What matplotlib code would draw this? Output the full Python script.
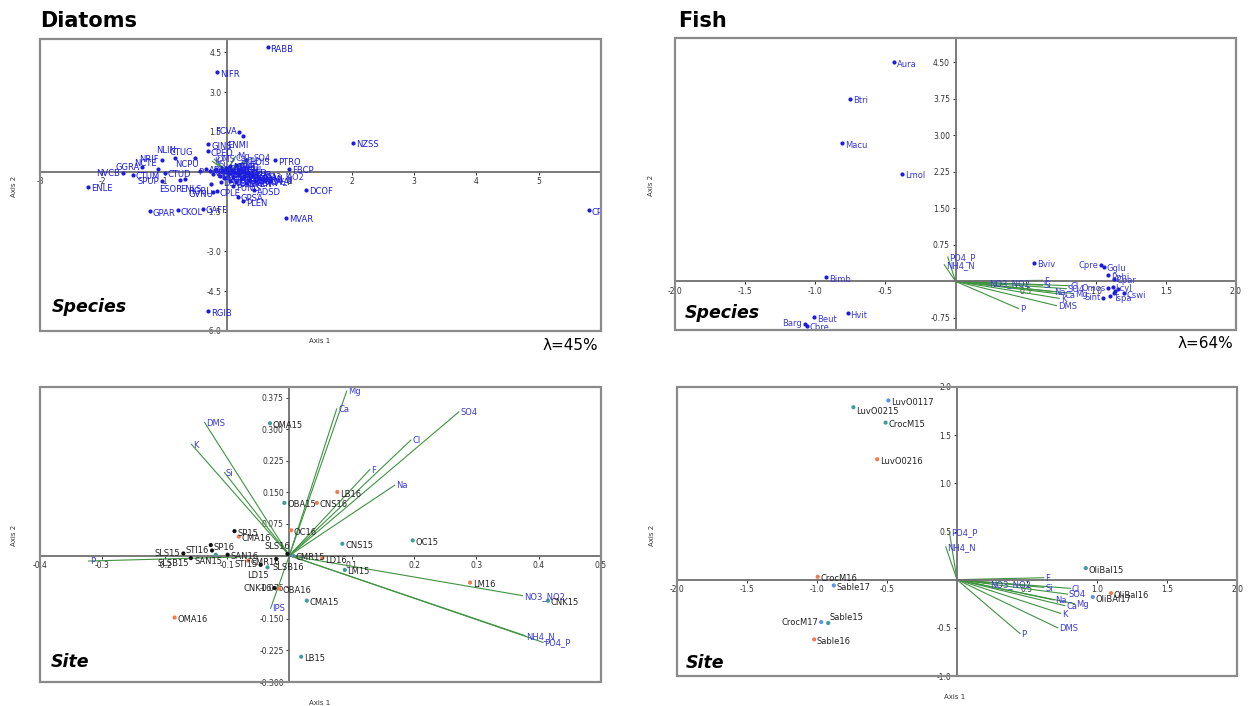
import matplotlib
matplotlib.use("Agg")
import matplotlib.pyplot as plt
from matplotlib.patches import Rectangle

plt.rcParams['font.family'] = ['DejaVu Sans']

# ======================= DATA =======================
# --- Diatoms: species scores (Axis 1, Axis 2) ---
diat_sp_names = ["RABB", "NIFR", "NZSS", "CP", "FCVA", "ENMI", "GINS", "CPED", "NLIN", "CTUG",
                 "NRIF", "GGRA", "NCTE", "NVCB", "CTUM", "ENLE", "CTUD", "SPUP", "NCPU", "ESOR",
                 "ENLS", "GVNU", "RGBL", "CPLE", "FUNG", "ADSD", "GPSA", "PLEN", "GAFF", "CKOL",
                 "GPAR", "RGIB", "MVAR", "DCOF", "PTRO", "FBCP", "HDIS",
                 "ADMI", "NPAL", "NCRY", "GPUM", "ECPT", "NAMP", "NGRE", "CPLA", "NLAN", "NCTV",
                 "NRCH", "NCPR", "ESLE", "SSEM", "NIPU", "NINC", "CMEN", "APED", "FSAP", "NVEN",
                 "MCIR", "NDIS", "PSCA", "SBRV", "NPAE", "DSTE", "TFLO", "EOMI", "AOVA"]
diat_sp_x = [0.65, -0.16, 2.02, 5.80, 0.20, 0.25, -0.30, -0.31, -0.84, -0.52,
             -1.05, -1.36, -1.10, -1.67, -1.51, -2.23, -1.00, -1.04, -0.44, -0.76,
             -0.68, -0.26, -0.22, -0.16, 0.10, 0.44, 0.18, 0.26, -0.39, -0.79,
             -1.24, -0.30, 0.95, 1.27, 0.77, 1.00, 0.31,
             -0.34, -0.28, -0.22, -0.18, -0.12, -0.08, -0.05, -0.02, 0.02, 0.05,
             0.08, 0.10, 0.12, 0.15, 0.18, 0.20, 0.22, 0.25, 0.28, 0.30,
             0.33, 0.36, 0.40, 0.45, 0.05, -0.10, 0.14, 0.50, 0.60]
diat_sp_y = [4.68, 3.74, 1.09, -1.46, 1.51, 1.36, 1.04, 0.78, 0.52, 0.50,
             0.46, 0.16, 0.10, -0.06, -0.11, -0.56, -0.03, -0.36, 0.02, -0.31,
             -0.29, -0.48, -0.76, -0.74, -0.55, -0.70, -0.94, -1.10, -1.40, -1.45,
             -1.49, -5.26, -1.73, -0.68, 0.43, 0.11, 0.44,
             0.12, 0.02, -0.08, 0.10, -0.15, 0.05, -0.25, 0.15, -0.05, -0.35,
             0.08, -0.18, -0.02, -0.40, 0.12, -0.10, -0.28, 0.02, -0.20, -0.42,
             -0.05, -0.30, -0.15, -0.35, 0.22, -0.38, 0.25, -0.22, -0.32]

# --- Diatoms: environmental variables (biplot arrows, site scaling) ---
diat_env_names = ["DMS", "K", "Si", "P", "IPS", "Mg", "Ca", "SO4", "Cl", "F", "Na",
                  "NO3_NO2", "NH4_N", "PO4_P"]
diat_env_x = [-0.136, -0.157, -0.104, -0.322, -0.030, 0.092, 0.076, 0.272, 0.195, 0.129, 0.169,
              0.374, 0.378, 0.407]
diat_env_y = [0.316, 0.264, 0.197, -0.013, -0.125, 0.390, 0.348, 0.341, 0.274, 0.204, 0.167,
              -0.095, -0.190, -0.206]

# --- Diatoms: site scores ---
diat_site_names = ["OMA15", "OBA15", "CNS16", "LB16", "OC16", "SP15", "CMA16", "SP16", "STI16",
                   "SLS15", "SLSB15", "SAN15", "SAN16", "CMR16", "STI15", "LD15", "SLS16", "SLSB16",
                   "CMR15", "LD16", "CNS15", "OC15", "LM15", "LM16", "CNK15", "CMA15", "LB15",
                   "OMA16", "CNK16", "OBA16"]
diat_site_x = [-0.031, -0.008, 0.044, 0.077, 0.003, -0.088, -0.081, -0.126, -0.124,
               -0.170, -0.158, -0.118, -0.099, -0.066, -0.046, -0.035, -0.003, -0.021,
               0.006, 0.053, 0.085, 0.198, 0.089, 0.290, 0.415, 0.028, 0.019,
               -0.184, -0.024, -0.016]
diat_site_y = [0.314, 0.125, 0.125, 0.151, 0.060, 0.058, 0.045, 0.025, 0.012,
               0.005, -0.006, 0.002, 0.002, -0.012, -0.022, -0.028, 0.004, -0.008,
               0.000, -0.006, 0.028, 0.036, -0.034, -0.064, -0.107, -0.107, -0.240,
               -0.147, -0.077, -0.078]
diat_site_group = ["t", "t", "o", "o", "o", "k", "o", "k", "k",
                   "k", "k", "t", "k", "o", "k", "t", "k", "k",
                   "t", "o", "t", "t", "t", "o", "t", "t", "t",
                   "o", "k", "o"]

# --- Fish: species scores ---
fish_sp_names = ["Aura", "Btri", "Macu", "Lmol", "Bimb", "Hvit", "Beut", "Barg", "Cbre",
                 "Bviv", "Cpre", "Gglu", "Pphi", "Cpar", "Lcyl", "Omos", "Sint", "Tspa", "Cswi",
                 "", "", ""]
fish_sp_x = [-0.44, -0.75, -0.81, -0.38, -0.92, -0.77, -1.01, -1.075, -1.06,
             0.56, 1.04, 1.06, 1.09, 1.13, 1.12, 1.09, 1.055, 1.10, 1.20,
             1.14, 1.16, 1.13]
fish_sp_y = [4.50, 3.75, 2.84, 2.21, 0.09, -0.65, -0.74, -0.88, -0.91,
             0.38, 0.33, 0.30, 0.13, 0.05, -0.11, -0.14, -0.335, -0.30, -0.25,
             -0.19, -0.15, -0.24]

# --- Fish: environmental variables ---
fish_env_names = ["PO4_P", "NH4_N", "NO3_NO2", "F", "Si", "Cl", "SO4", "Na", "Ca", "Mg", "K", "DMS", "P"]
fish_env_x = [-0.055, -0.08, 0.23, 0.62, 0.62, 0.81, 0.79, 0.69, 0.77, 0.84, 0.74, 0.72, 0.45]
fish_env_y = [0.50, 0.34, -0.04, 0.02, -0.08, -0.09, -0.15, -0.21, -0.27, -0.25, -0.35, -0.50, -0.56]

# --- Fish: site scores ---
fish_site_names = ["LuvO0117", "LuvO0215", "CrocM15", "LuvO0216", "CrocM16", "Sable17",
                   "CrocM17", "Sable15", "Sable16", "OliBal15", "OliBal16", "OliBAl17"]
fish_site_x = [-0.49, -0.74, -0.51, -0.57, -0.995, -0.88, -0.97, -0.92, -1.02, 0.92, 1.10, 0.97]
fish_site_y = [1.86, 1.79, 1.63, 1.25, 0.03, -0.06, -0.44, -0.45, -0.62, 0.12, -0.14, -0.18]
fish_site_group = ["b", "t", "t", "o", "o", "b", "b", "t", "o", "t", "o", "b"]

# Variance explained
lambda_diat = "λ=45%"
lambda_fish = "λ=64%"

# ======================= STYLE =======================
W, H = 1253, 706
SP_BLUE = "#1c1ce0"
ENV_BLUE = "#3a3ad8"
ENV_GREEN = "#3f9440"
GROUP_COL = {"k": "#111111", "o": "#f27a4c", "t": "#3f9d98", "b": "#5a92ec"}

fig = plt.figure(figsize=(W / 100, H / 100), dpi=100)


def make_ax(x0, y0, x1, y1):
    return fig.add_axes([x0 / W, 1 - y1 / H, (x1 - x0) / W, (y1 - y0) / H])


def setup(ax, xlim, ylim, xt, xfmt, yt, yfmt):
    ax.set_xlim(*xlim)
    ax.set_ylim(*ylim)
    ax.spines['top'].set_visible(False)
    ax.spines['right'].set_visible(False)
    for s in ('left', 'bottom'):
        ax.spines[s].set_position(('data', 0))
        ax.spines[s].set_color('#6e6e6e')
        ax.spines[s].set_linewidth(1.3)
    ax.set_xticks(xt, [xfmt.format(v) for v in xt])
    ax.set_yticks(yt, [yfmt.format(v) for v in yt])
    ax.tick_params(axis='both', labelsize=5.5, colors='#333333', length=2.5, width=0.7, pad=1.5)
    ax.add_patch(Rectangle((0, 0), 1, 1, transform=ax.transAxes, fill=False,
                           ec='#8a8a8a', lw=1.6, clip_on=False, zorder=20))


def label_points(ax, names, xs, ys, color, fs, offsets, default=(2, -1.5, 'left')):
    for n, x, y in zip(names, xs, ys):
        if not n:
            continue
        dx, dy, ha = offsets.get(n, default)
        ax.annotate(n, (x, y), xytext=(dx, dy), textcoords='offset points', ha=ha,
                    va='center', fontsize=fs, color=color, clip_on=True, zorder=5)


def env_arrows(ax, names, xs, ys, scale=1.0, fs=6):
    for n, x, y in zip(names, xs, ys):
        ax.plot([0, x * scale], [0, y * scale], color=ENV_GREEN, lw=0.8, zorder=2)
        ax.annotate(n, (x * scale, y * scale), xytext=(1, -0.5), textcoords='offset points',
                    ha='left', va='center', fontsize=fs, color=ENV_BLUE, zorder=4, clip_on=True)


# ---------------- Panel A: Diatom species ----------------
axA = make_ax(40, 39, 601, 331)
setup(axA, (-3, 6), (-6, 5), [-3, -2, -1, 1, 2, 3, 4, 5], "{:d}",
      [4.5, 3.0, 1.5, -1.5, -3.0, -4.5, -6.0], "{:.1f}")
env_arrows(axA, diat_env_names, diat_env_x, diat_env_y, scale=1.5, fs=6)
axA.scatter(diat_sp_x, diat_sp_y, s=9, color=SP_BLUE, zorder=3, linewidths=0)
offA = {"FCVA": (-2, 0, 'right'), "ENMI": (4, -7, 'right'), "NLIN": (1, 5, 'right'),
        "CTUG": (-1, 4, 'right'), "NRIF": (-2, 0, 'right'), "GGRA": (-2, 0, 'right'),
        "NCTE": (-1, 4, 'right'), "NVCB": (-2, 0, 'right'), "SPUP": (-2, 0, 'right'),
        "NCPU": (-1, 5, 'right'), "ESOR": (2, -7, 'right'), "ENLS": (-3, -7, 'left'),
        "GVNU": (2, -7, 'right'), "RGBL": (-2, 0, 'right')}
label_points(axA, diat_sp_names, diat_sp_x, diat_sp_y, SP_BLUE, 6, offA)

# ---------------- Panel B: Fish species ----------------
axB = make_ax(675, 38, 1236, 330)
setup(axB, (-2, 2), (-1, 5), [-2.0, -1.5, -1.0, -0.5, 0.5, 1.0, 1.5, 2.0], "{:.1f}",
      [4.5, 3.75, 3.0, 2.25, 1.5, 0.75, -0.75], "{:.2f}")
env_arrows(axB, fish_env_names, fish_env_x, fish_env_y, fs=6)
axB.scatter(fish_sp_x, fish_sp_y, s=9, color=SP_BLUE, zorder=3, linewidths=0)
offB = {"Barg": (-2, 0.5, 'right'), "Cpre": (-2, 0, 'right'), "Omos": (-2, 0, 'right'),
        "Sint": (-2, 0, 'right')}
label_points(axB, fish_sp_names, fish_sp_x, fish_sp_y, ENV_BLUE, 6, offB)

# ---------------- Panel C: Diatom sites ----------------
axC = make_ax(40, 387, 601, 682)
setup(axC, (-0.4, 0.5), (-0.3, 0.4), [-0.4, -0.3, -0.2, -0.1, 0.1, 0.2, 0.3, 0.4, 0.5], "{:.1f}",
      [0.375, 0.3, 0.225, 0.15, 0.075, -0.075, -0.15, -0.225, -0.3], "{:.3f}")
env_arrows(axC, diat_env_names, diat_env_x, diat_env_y, fs=6)
axC.scatter(diat_site_x, diat_site_y, s=9, color=[GROUP_COL[g] for g in diat_site_group],
            zorder=3, linewidths=0)
offC = {"STI16": (-2, 0, 'right'), "SLS15": (-2, 0, 'right'), "SLSB15": (-1, -4, 'right'),
        "SAN15": (5, -5, 'right'), "STI15": (-2, 0, 'right'), "LD15": (1, -6, 'right'),
        "SLS16": (2, 5, 'right'), "SLSB16": (-3, -6, 'left'), "CNK16": (-2, 0, 'right')}
label_points(axC, diat_site_names, diat_site_x, diat_site_y, '#222222', 6, offC)

# ---------------- Panel D: Fish sites ----------------
axD = make_ax(677, 387, 1237, 676)
setup(axD, (-2, 2), (-1, 2), [-2.0, -1.5, -1.0, -0.5, 0.5, 1.0, 1.5, 2.0], "{:.1f}",
      [2.0, 1.5, 1.0, 0.5, -0.5, -1.0], "{:.1f}")
env_arrows(axD, fish_env_names, fish_env_x, fish_env_y, fs=6)
axD.scatter(fish_site_x, fish_site_y, s=9, color=[GROUP_COL[g] for g in fish_site_group],
            zorder=3, linewidths=0)
offD = {"CrocM17": (-2, 0, 'right'), "Sable15": (1, 4, 'left'), "LuvO0215": (2, -3, 'left')}
label_points(axD, fish_site_names, fish_site_x, fish_site_y, '#222222', 6, offD)

# ---------------- Figure texts ----------------
def ftext(px, py, s, **kw):
    fig.text(px / W, 1 - py / H, s, **kw)

ftext(40, 27, "Diatoms", fontsize=15, fontweight='bold', va='baseline')
ftext(678, 27, "Fish", fontsize=15, fontweight='bold', va='baseline')
ftext(52, 312, "Species", fontsize=12.5, fontweight='bold', style='italic', va='baseline')
ftext(685, 318, "Species", fontsize=12.5, fontweight='bold', style='italic', va='baseline')
ftext(51, 667, "Site", fontsize=12.5, fontweight='bold', style='italic', va='baseline')
ftext(686, 668, "Site", fontsize=12.5, fontweight='bold', style='italic', va='baseline')
ftext(598, 345, lambda_diat, fontsize=11, ha='right', va='center')
ftext(1233, 343, lambda_fish, fontsize=11, ha='right', va='center')

ftext(320, 341, "Axis 1", fontsize=5, ha='center', va='center', color='#333333')
ftext(320, 703, "Axis 1", fontsize=5, ha='center', va='center', color='#333333')
ftext(955, 697, "Axis 1", fontsize=5, ha='center', va='center', color='#333333')
for px, py in [(14, 186), (651, 185), (14, 535), (652, 535)]:
    ftext(px, py, "Axis 2", fontsize=5, ha='center', va='center', rotation=90, color='#333333')

fig.savefig("out.png", dpi=100, facecolor='white')
